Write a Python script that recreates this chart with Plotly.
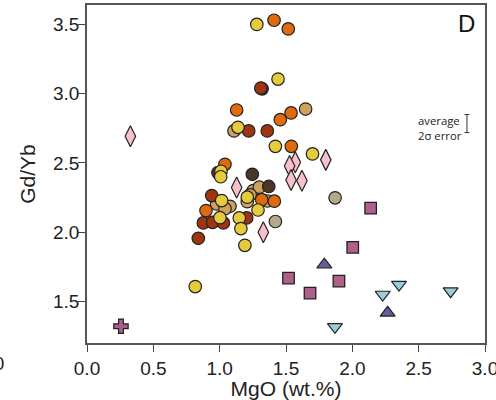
import plotly.graph_objects as go

# ---- data (MgO wt.%, Gd/Yb) ----
yellow_x = [1.28, 1.44, 1.138, 1.42, 1.70, 1.01, 1.008, 1.208, 1.015, 1.002, 1.148, 1.289, 1.16, 1.19, 0.816]
yellow_y = [3.50, 3.105, 2.757, 2.62, 2.565, 2.44, 2.40, 2.253, 2.228, 2.105, 2.103, 2.16, 2.026, 1.905, 1.607]

tan_x = [1.108, 1.648, 0.977, 1.078, 1.04, 1.253, 1.299, 1.208, 1.23, 1.36]
tan_y = [2.731, 2.889, 2.204, 2.187, 2.17, 2.30, 2.325, 2.22, 2.27, 2.225]

graytan_x = [1.87, 1.42]
graytan_y = [2.248, 2.077]

darkbrown_x = [1.32, 0.987, 1.246, 1.37]
darkbrown_y = [3.035, 2.43, 2.418, 2.33]

redbrown_x = [1.31, 1.219, 1.359, 0.94, 0.877, 0.947, 1.028, 0.839, 1.204]
redbrown_y = [3.04, 2.731, 2.731, 2.264, 2.067, 2.071, 2.067, 1.956, 2.103]

orange_x = [1.41, 1.517, 1.128, 1.538, 1.457, 1.54, 1.04, 0.897, 1.317, 1.412]
orange_y = [3.53, 3.467, 2.882, 2.861, 2.812, 2.62, 2.49, 2.156, 2.235, 2.224]

diamond_x = [0.327, 1.80, 1.57, 1.527, 1.538, 1.62, 1.128, 1.329]
diamond_y = [2.692, 2.522, 2.505, 2.478, 2.377, 2.372, 2.322, 2.0]

cross_x = [0.256]
cross_y = [1.321]

square_x = [2.138, 2.003, 1.519, 1.899, 1.681]
square_y = [2.173, 1.891, 1.668, 1.646, 1.56]

triup_x = [1.789, 2.266]
triup_y = [1.765, 1.418]

tridown_x = [2.352, 2.229, 2.741, 1.869]
tridown_y = [1.622, 1.55, 1.574, 1.317]

# average 2-sigma error bar
err_x = [2.864]
err_y = [2.784]
err_half = [0.065]

x_ticks = [0.0, 0.5, 1.0, 1.5, 2.0, 2.5, 3.0]
y_ticks = [1.5, 2.0, 2.5, 3.0, 3.5]

FONT = "Liberation Sans, Arial, sans-serif"
OUT = "#222222"

fig = go.Figure()

def add(xs, ys, color, symbol="circle", size=12.5, lw=1.2):
    fig.add_trace(go.Scatter(
        x=xs, y=ys, mode="markers", showlegend=False, hoverinfo="skip",
        marker=dict(symbol=symbol, size=size, color=color,
                    line=dict(color=OUT, width=lw))))

add(graytan_x, graytan_y, "#B5A98D")
add(tan_x, tan_y, "#CFA35D")
add(darkbrown_x, darkbrown_y, "#4B3627")
add(redbrown_x, redbrown_y, "#9E3510")
add(orange_x, orange_y, "#E06A0E")
add(yellow_x, yellow_y, "#E6CC3C")
add(diamond_x, diamond_y, "#F8C0CC", "diamond-tall", 15, 1.2)
add(cross_x, cross_y, "#A85C86", "cross", 12, 1.2)
add(square_x, square_y, "#B0608A", "square", 11.5, 1.3)
add(triup_x, triup_y, "#6A5A9E", "triangle-up", 13, 1.2)
add(tridown_x, tridown_y, "#9CCBDC", "triangle-down", 13, 1.2)

fig.add_trace(go.Scatter(
    x=err_x, y=err_y, mode="markers", showlegend=False, hoverinfo="skip",
    marker=dict(size=1, color="rgba(0,0,0,0)"),
    error_y=dict(type="data", array=err_half, color="#333333", thickness=1, width=2.5)))

axis_common = dict(
    showline=True, mirror=True, linecolor="#555555", linewidth=1.6,
    ticks="outside", ticklen=7, tickwidth=1.2, tickcolor="#444444",
    showgrid=False, zeroline=False, automargin=False,
    tickfont=dict(family=FONT, size=19, color="#222222"),
)

fig.update_layout(
    width=496, height=400,
    margin=dict(l=87, r=11, t=5, b=57, autoexpand=False),
    paper_bgcolor="white", plot_bgcolor="white",
    font=dict(family=FONT, color="#222222"),
    xaxis=dict(range=[0, 3.0], tickvals=x_ticks, ticktext=[f"{v:.1f}" for v in x_ticks],
               ticklabeloverflow="allow",
               title=dict(text="MgO (wt.%)", font=dict(family=FONT, size=21), standoff=6),
               **axis_common),
    yaxis=dict(range=[1.2, 3.64], tickvals=y_ticks, ticktext=[f"{v:.1f}" for v in y_ticks],
               ticklabelstandoff=-5,
               title=dict(text="Gd/Yb", font=dict(family=FONT, size=21), standoff=12),
               **axis_common),
    annotations=[
        dict(text="D", xref="paper", yref="paper", x=0.98, y=0.992, xanchor="right", yanchor="top",
             showarrow=False, font=dict(family=FONT, size=24, color="#111111")),
        dict(text="average<br>2σ error", xref="paper", yref="paper",
             x=(416 - 87) / 398, y=1 - (128 - 5) / 338, xanchor="left", yanchor="middle",
             align="left", showarrow=False,
             font=dict(family="Open Sans, Liberation Sans, sans-serif", size=11.3, color="#222222")),
        dict(text="3.0", xref="paper", yref="paper", x=(6 - 87) / 398, y=-0.025,
             xanchor="right", yanchor="top", showarrow=False,
             font=dict(family=FONT, size=19, color="#222222")),
    ],
)

fig.write_html("out.html")
